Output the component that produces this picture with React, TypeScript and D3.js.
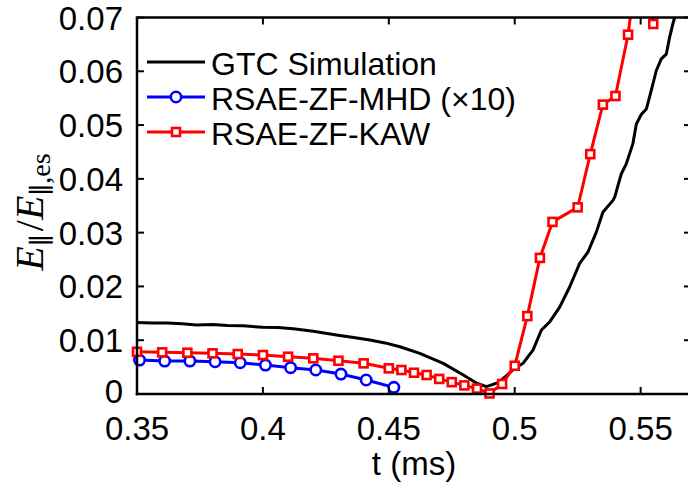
import React from "react";
import * as d3 from "d3";

// ---- data ----
const gtcT = [0.35, 0.356, 0.362, 0.368, 0.3737, 0.38, 0.386, 0.392, 0.4, 0.406, 0.412, 0.42, 0.4292, 0.436, 0.4425, 0.4485, 0.4544, 0.4623, 0.4716, 0.4796, 0.4849, 0.4888, 0.4934, 0.4965, 0.4993, 0.5033, 0.5073, 0.5106, 0.5139, 0.5179, 0.5218, 0.5258, 0.5291, 0.5324, 0.535, 0.539, 0.5397, 0.5423, 0.5443, 0.5469, 0.5483, 0.5503, 0.5523, 0.5542, 0.5562, 0.5582, 0.5602, 0.5615, 0.5628, 0.5635, 0.565];
const gtcV = [0.0133, 0.01318, 0.01322, 0.01305, 0.01285, 0.01292, 0.01272, 0.01268, 0.0124, 0.01235, 0.01212, 0.01165, 0.01095, 0.0105, 0.01003, 0.0095, 0.00878, 0.00756, 0.0057, 0.00353, 0.002, 0.00136, 0.0021, 0.0033, 0.0045, 0.0057, 0.0082, 0.0119, 0.0134, 0.0162, 0.0199, 0.0243, 0.0264, 0.0301, 0.0338, 0.036, 0.0366, 0.0409, 0.0428, 0.0465, 0.0502, 0.052, 0.053, 0.0564, 0.0601, 0.0623, 0.0632, 0.0663, 0.0688, 0.07, 0.0725];

const mhdT = [0.351, 0.361, 0.371, 0.381, 0.391, 0.401, 0.411, 0.421, 0.431, 0.441, 0.452];
const mhdV = [0.0063, 0.00613, 0.00613, 0.006, 0.00581, 0.00538, 0.00489, 0.00446, 0.00371, 0.0026, 0.00124];

const kawT = [0.35, 0.36, 0.37, 0.38, 0.39, 0.4, 0.41, 0.42, 0.43, 0.44, 0.45, 0.455, 0.46, 0.465, 0.47, 0.475, 0.48, 0.485, 0.49, 0.495, 0.5, 0.505, 0.51, 0.515, 0.525, 0.53, 0.535, 0.54, 0.545, 0.55, 0.555];
const kawV = [0.00785, 0.00774, 0.00767, 0.00756, 0.00743, 0.00724, 0.00693, 0.00663, 0.00618, 0.0057, 0.00477, 0.00446, 0.00395, 0.00353, 0.0028, 0.0022, 0.0016, 0.001, 0.0001, 0.00186, 0.00525, 0.01448, 0.0253, 0.032, 0.0347, 0.0446, 0.0538, 0.0554, 0.0668, 0.085, 0.0688];

const xTicks = [0.35, 0.4, 0.45, 0.5, 0.55];
const xTickLabels = ["0.35", "0.4", "0.45", "0.5", "0.55"];
const yTicks = [0, 0.01, 0.02, 0.03, 0.04, 0.05, 0.06, 0.07];
const yTickLabels = ["0", "0.01", "0.02", "0.03", "0.04", "0.05", "0.06", "0.07"];

const legendLabels = ["GTC Simulation", "RSAE-ZF-MHD (\u00d710)", "RSAE-ZF-KAW"];

const W = 688, H = 489;
const L = 137, R = 691, T = 17.5, B = 394;
const SANS = "'Liberation Sans', Arial, sans-serif";
const SERIF = "'Liberation Serif', 'DejaVu Serif', serif";

export default function App() {
  const x = d3.scaleLinear().domain([0.35, 0.57]).range([L, R]);
  const y = d3.scaleLinear().domain([0, 0.07]).range([B, T]);
  const line = d3.line<[number, number]>().x(d => x(d[0])).y(d => y(d[1]));
  const gtc = gtcT.map((t, i) => [t, gtcV[i]] as [number, number]);
  const mhd = mhdT.map((t, i) => [t, mhdV[i]] as [number, number]);
  const kaw = kawT.map((t, i) => [t, kawV[i]] as [number, number]);
  const inRange = (d: [number, number]) => d[1] <= 0.0705;
  const tick = 7;
  const legY = [75, 110, 145];
  const colors = ["#000000", "#0000ff", "#ff0000"];

  return (
    <div style={{ position: "absolute", left: 0, top: 0 }}>
      <svg width={W} height={H} style={{ display: "block", background: "#fff" }}>
        <defs>
          <clipPath id="plot">
            <rect x={L} y={T} width={R - L} height={B - T} />
          </clipPath>
        </defs>
        <g clipPath="url(#plot)" fill="none" strokeLinejoin="round">
          <path d={line(gtc) || ""} stroke="#000" strokeWidth={3} />
          <path d={line(mhd) || ""} stroke="#0000ff" strokeWidth={3} />
          <path d={line(kaw) || ""} stroke="#ff0000" strokeWidth={3} />
        </g>
        {mhd.filter(inRange).map((d, i) => (
          <circle key={"c" + i} cx={x(d[0])} cy={y(d[1])} r={5.2} fill="#fff" stroke="#0000ff" strokeWidth={2.6} />
        ))}
        {kaw.filter(inRange).map((d, i) => (
          <rect key={"s" + i} x={x(d[0]) - 4} y={y(d[1]) - 4} width={8} height={8} fill="#fff" stroke="#ff0000" strokeWidth={2.6} />
        ))}
        {/* box */}
        <g stroke="#000" strokeWidth={2.5} fill="none">
          <line x1={L} x2={L} y1={T} y2={B + 1.25} />
          <line x1={L - 1.25} x2={R} y1={B} y2={B} />
          <line x1={L - 1.25} x2={R} y1={T} y2={T} />
          <line x1={R} x2={R} y1={T} y2={B} />
        </g>
        <g stroke="#000" strokeWidth={2}>
          {xTicks.map((t, i) => (
            <g key={"xt" + i}>
              <line x1={x(t)} x2={x(t)} y1={B} y2={B - tick} />
              <line x1={x(t)} x2={x(t)} y1={T} y2={T + tick} />
            </g>
          ))}
          {yTicks.map((v, i) => (
            <g key={"yt" + i}>
              <line x1={L} x2={L + tick} y1={y(v)} y2={y(v)} />
              <line x1={R} x2={R - tick} y1={y(v)} y2={y(v)} />
            </g>
          ))}
        </g>
        <g fontFamily={SANS} fontSize={33} fill="#000">
          {xTicks.map((t, i) => (
            <text key={"xl" + i} x={x(t)} y={440} textAnchor="middle">{xTickLabels[i]}</text>
          ))}
          {yTicks.map((v, i) => (
            <text key={"yl" + i} x={123} y={y(v) + (i === 0 ? 9 : 12)} textAnchor="end">{yTickLabels[i]}</text>
          ))}
          <text x={(L + R) / 2} y={475} textAnchor="middle">t (ms)</text>
        </g>
        {/* y label */}
        <text transform="translate(43,212) rotate(-90)" textAnchor="middle" fontFamily={SERIF} fontSize={40} fill="#000">
          <tspan fontStyle="italic">E</tspan>
          <tspan fontSize={26} dy={7} fontFamily="'DejaVu Serif', serif">{"\u2225"}</tspan>
          <tspan dy={-7} dx={3}>/</tspan>
          <tspan fontStyle="italic">E</tspan>
          <tspan fontSize={26} dy={7} fontFamily="'DejaVu Serif', serif">{"\u2225"}</tspan>
          <tspan fontSize={28}>,es</tspan>
        </text>
        {/* legend */}
        {legendLabels.map((lab, i) => (
          <g key={"lg" + i}>
            <line x1={147} x2={205} y1={legY[i] - 13} y2={legY[i] - 13} stroke={colors[i]} strokeWidth={3} />
            {i === 1 && <circle cx={176} cy={legY[i] - 13} r={5.2} fill="#fff" stroke={colors[i]} strokeWidth={2.6} />}
            {i === 2 && <rect x={172} y={legY[i] - 17} width={8} height={8} fill="#fff" stroke={colors[i]} strokeWidth={2.6} />}
            <text x={211} y={legY[i]} fontFamily={SANS} fontSize={32} fill="#000">{lab}</text>
          </g>
        ))}
      </svg>
    </div>
  );
}
